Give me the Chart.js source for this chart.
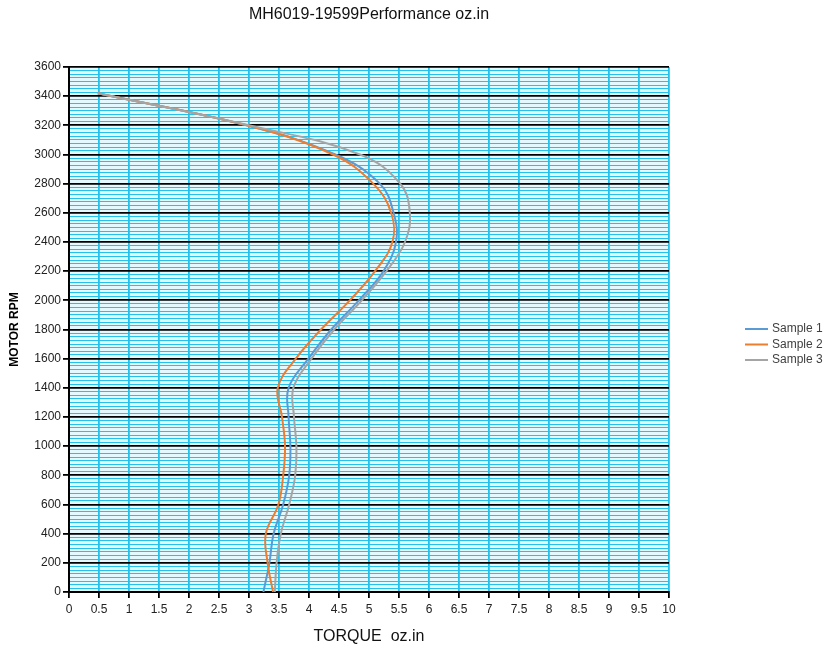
<!DOCTYPE html>
<html>
<head>
<meta charset="utf-8">
<script src="https://cdn.jsdelivr.net/npm/chart.js@4"></script>
<style>
  html, body { margin: 0; padding: 0; background: #fff; }
  canvas { display: block; }
</style>
</head>
<body>
<canvas id="c" width="829" height="649"></canvas>
<script>
// ---- data ----
const rpm     = [0, 200, 400, 600, 800, 1000, 1200, 1400, 1600, 1800, 2000, 2200, 2400, 2600, 2800, 3000, 3200, 3420];
const sample1 = [3.24, 3.34, 3.41, 3.57, 3.67, 3.69, 3.66, 3.66, 3.99, 4.37, 4.83, 5.24, 5.45, 5.41, 5.18, 4.44, 2.96, 0.48];
const sample2 = [3.40, 3.31, 3.28, 3.49, 3.57, 3.60, 3.55, 3.48, 3.78, 4.20, 4.68, 5.10, 5.39, 5.37, 5.07, 4.40, 2.96, 0.48];
const sample3 = [3.43, 3.46, 3.53, 3.67, 3.77, 3.79, 3.75, 3.74, 4.04, 4.42, 4.88, 5.29, 5.60, 5.68, 5.52, 4.85, 3.00, 0.48];
const seriesNames = ['Sample 1', 'Sample 2', 'Sample 3'];
const titleText = 'MH6019-19599Performance oz.in';
const xTitle = 'TORQUE  oz.in';
const yTitle = 'MOTOR RPM';

const toPts = arr => rpm.map((r, i) => ({ x: arr[i], y: r }));

Chart.defaults.font.family = "'Liberation Sans', Arial, sans-serif";

const plotBg = {
  id: 'plotBg',
  beforeDraw(chart) {
    const { ctx, chartArea: a } = chart;
    ctx.save();
    ctx.fillStyle = '#e3f9fd';
    ctx.fillRect(a.left, a.top, a.right - a.left, a.bottom - a.top);
    ctx.restore();
  }
};

const sideLegend = {
  id: 'sideLegend',
  afterDraw(chart) {
    const { ctx } = chart;
    const ys = [329, 344.5, 360];
    ctx.save();
    chart.data.datasets.forEach((ds, i) => {
      const y = ys[i];
      ctx.strokeStyle = ds.borderColor;
      ctx.lineWidth = 2;
      ctx.beginPath();
      ctx.moveTo(745, y);
      ctx.lineTo(768, y);
      ctx.stroke();
      ctx.fillStyle = '#404040';
      ctx.font = "12px 'Liberation Sans', Arial, sans-serif";
      ctx.textAlign = 'left';
      ctx.textBaseline = 'middle';
      ctx.fillText(ds.label, 772, y);
    });
    ctx.restore();
  }
};

const isMajor = ctx => ctx.tick && Math.round(ctx.tick.value) % 200 === 0;

new Chart(document.getElementById('c'), {
  type: 'scatter',
  data: {
    datasets: [
      { label: seriesNames[0], data: toPts(sample1), borderColor: '#5b9bd5', backgroundColor: '#5b9bd5', order: 3 },
      { label: seriesNames[1], data: toPts(sample2), borderColor: '#ed7d31', backgroundColor: '#ed7d31', order: 2 },
      { label: seriesNames[2], data: toPts(sample3), borderColor: '#a5a5a5', backgroundColor: '#a5a5a5', order: 1 }
    ].map(d => Object.assign(d, { showLine: true, pointRadius: 0, borderWidth: 2, tension: 0.4, fill: false }))
  },
  options: {
    responsive: false,
    devicePixelRatio: 1,
    animation: false,
    layout: { padding: { left: 0, right: 160, top: 0, bottom: 0 } },
    plugins: {
      legend: { display: false },
      tooltip: { enabled: false },
      title: {
        display: true,
        text: titleText,
        fullSize: false,
        color: '#111',
        font: { size: 16, weight: 'normal' },
        padding: { top: 5, bottom: 42.8 }
      }
    },
    scales: {
      x: {
        type: 'linear',
        min: 0,
        max: 10,
        afterFit: s => { s.height = 57; },
        ticks: {
          stepSize: 0.5,
          autoSkip: false,
          maxRotation: 0,
          padding: 4,
          color: '#222',
          font: { size: 12 },
          callback: v => String(v)
        },
        grid: { color: '#22c2ec', lineWidth: 1.8, tickLength: 6, tickColor: '#000' },
        border: { color: '#000', width: 2 },
        title: { display: true, text: xTitle, color: '#111', font: { size: 16 }, padding: { top: 0, bottom: 3 } }
      },
      y: {
        type: 'linear',
        min: 0,
        max: 3600,
        afterFit: s => { s.width = 69; },
        ticks: {
          stepSize: 25,
          autoSkip: false,
          maxTicksLimit: 1000,
          padding: 2,
          color: '#222',
          font: { size: 12 },
          callback: v => (Math.round(v) % 200 === 0 ? String(v) : '')
        },
        grid: {
          color: ctx => (isMajor(ctx) ? '#000' : '#22c2ec'),
          lineWidth: ctx => (isMajor(ctx) ? 1.8 : 1.1),
          tickLength: 6,
          tickColor: ctx => (isMajor(ctx) ? '#000' : 'rgba(0,0,0,0)')
        },
        border: { color: '#000', width: 2 },
        title: { display: true, text: yTitle, color: '#000', font: { size: 12, weight: 'bold' }, padding: { top: 7, bottom: 0 } }
      }
    }
  },
  plugins: [plotBg, sideLegend]
});
</script>
</body>
</html>
